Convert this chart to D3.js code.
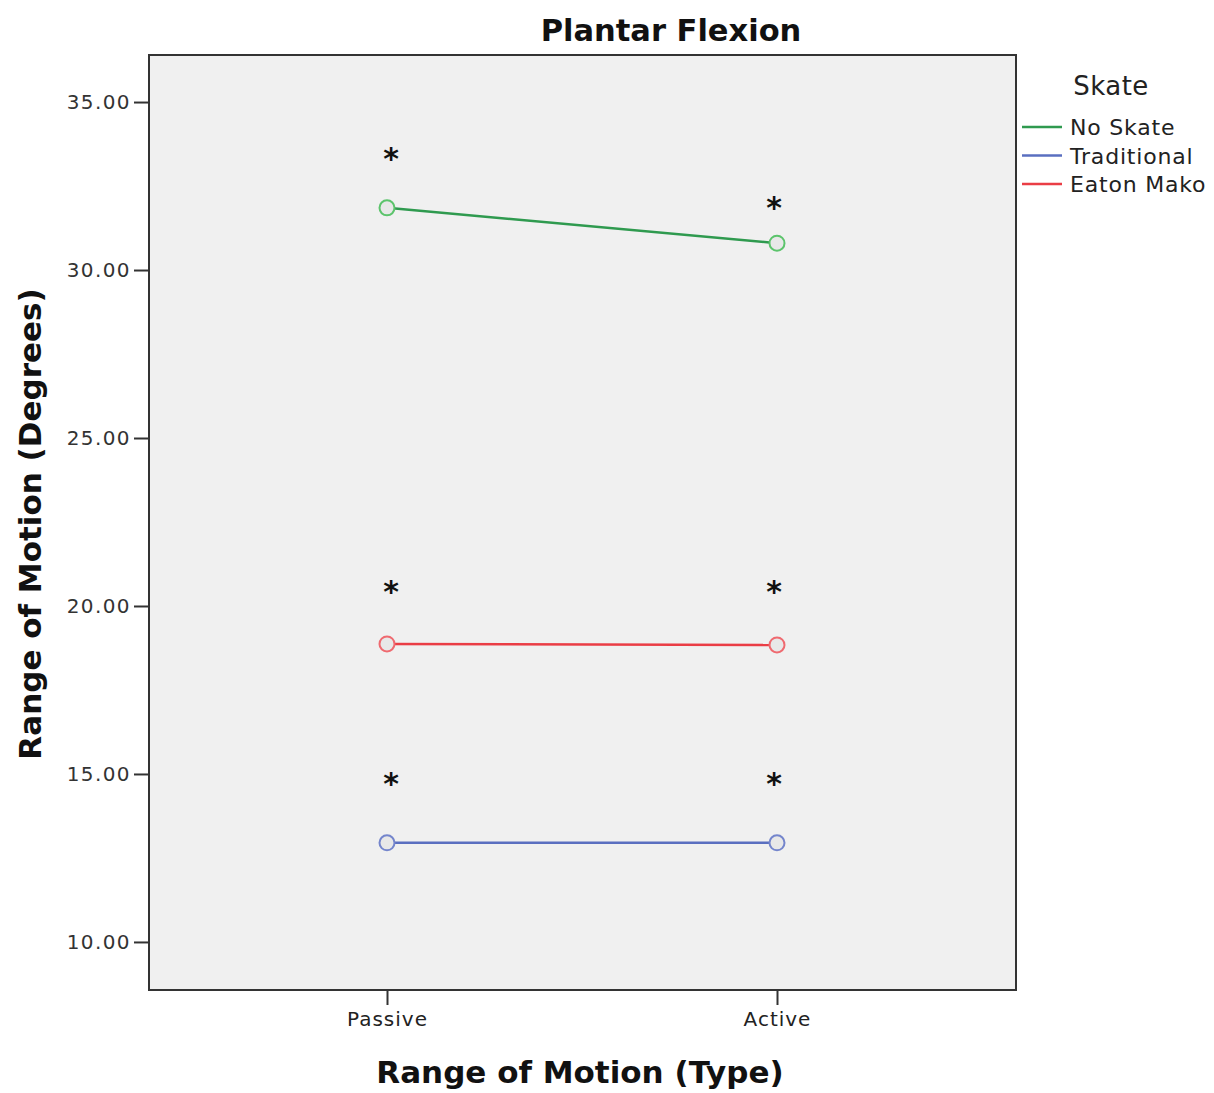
<!DOCTYPE html>
<html>
<head>
<meta charset="utf-8">
<script src="https://cdn.jsdelivr.net/npm/d3@7"></script>
<style>
    body { margin: 0; background: #fff; }
    text { font-family: "DejaVu Sans", sans-serif; }
</style>
</head>
<body>
<div id="chart"></div>
<script>
(function () {
    'use strict';

    // data
    var categories = ['Passive', 'Active'];
    var seriesNames = ['No Skate', 'Traditional', 'Eaton Mako'];
    var seriesColors = ['#2f9a4f', '#5a6fc0', '#ea3d45'];
    var markerColors = ['#5cc46c', '#7485cc', '#ef6a70'];
    var noSkate = [31.85, 30.80];
    var traditional = [12.95, 12.95];
    var eatonMako = [18.87, 18.84];
    // significance stars (value where each * sits)
    var starsNoSkate = [33.38, 31.95];
    var starsTraditional = [14.80, 14.80];
    var starsEatonMako = [20.52, 20.52];
    var yTicks = [10, 15, 20, 25, 30, 35];

    var series = [noSkate, traditional, eatonMako];
    var stars = [starsNoSkate, starsTraditional, starsEatonMako];
    var starShift = [4, -3];

    var width = 1214, height = 1093;
    var margin = { top: 55, right: 198, bottom: 103, left: 149 };
    var innerW = width - margin.left - margin.right;
    var innerH = height - margin.top - margin.bottom;

    var svg = d3.select('#chart').append('svg')
        .attr('width', width)
        .attr('height', height);

    var g = svg.append('g')
        .attr('transform', 'translate(' + margin.left + ',' + margin.top + ')');

    var x = d3.scalePoint()
        .domain(categories)
        .range([238, 628]);

    var y = d3.scaleLinear()
        .domain([8.57, 36.4])
        .range([innerH, 0]);

    // plot background
    g.append('rect')
        .attr('width', innerW)
        .attr('height', innerH)
        .attr('fill', '#f0f0f0');

    // y axis
    var yAxis = g.append('g')
        .call(d3.axisLeft(y).tickValues(yTicks).tickFormat(d3.format('.2f'))
            .tickSize(15).tickPadding(3));
    yAxis.select('.domain').remove();
    yAxis.selectAll('.tick line').attr('stroke', '#333').attr('stroke-width', 2);
    yAxis.selectAll('.tick text')
        .attr('fill', '#333')
        .style('font-size', '20px')
        .style('letter-spacing', '1.4px');

    // x axis
    var xAxis = g.append('g')
        .attr('transform', 'translate(0,' + innerH + ')')
        .call(d3.axisBottom(x).tickSize(15).tickPadding(7));
    xAxis.select('.domain').remove();
    xAxis.selectAll('.tick line').attr('stroke', '#333').attr('stroke-width', 2);
    xAxis.selectAll('.tick text')
        .attr('fill', '#222')
        .style('font-size', '20px')
        .style('letter-spacing', '1px');

    // frame
    g.append('rect')
        .attr('width', innerW)
        .attr('height', innerH)
        .attr('fill', 'none')
        .attr('stroke', '#333')
        .attr('stroke-width', 2);

    var line = d3.line()
        .x(function (d, i) { return x(categories[i]); })
        .y(function (d) { return y(d); });

    series.forEach(function (s, k) {
        g.append('path')
            .datum(s)
            .attr('d', line)
            .attr('fill', 'none')
            .attr('stroke', seriesColors[k])
            .attr('stroke-width', 2.5);

        g.selectAll('.pt' + k)
            .data(s).enter()
            .append('circle')
            .attr('class', 'pt' + k)
            .attr('cx', function (d, i) { return x(categories[i]); })
            .attr('cy', function (d) { return y(d); })
            .attr('r', 7.5)
            .attr('fill', '#e8e8e8')
            .attr('stroke', markerColors[k])
            .attr('stroke-width', 2);

        g.selectAll('.star' + k)
            .data(stars[k]).enter()
            .append('text')
            .attr('class', 'star' + k)
            .attr('x', function (d, i) { return x(categories[i]) + starShift[i]; })
            .attr('y', function (d) { return y(d) + 13; })
            .attr('text-anchor', 'middle')
            .style('font-size', '30px')
            .style('font-weight', 'bold')
            .attr('fill', '#111')
            .text('*');
    });

    // titles
    svg.append('text')
        .attr('x', 671)
        .attr('y', 41)
        .attr('text-anchor', 'middle')
        .style('font-size', '30.5px')
        .style('font-weight', 'bold')
        .attr('fill', '#111')
        .text('Plantar Flexion');

    svg.append('text')
        .attr('x', 580)
        .attr('y', 1083)
        .attr('text-anchor', 'middle')
        .style('font-size', '31px')
        .style('font-weight', 'bold')
        .attr('fill', '#111')
        .text('Range of Motion (Type)');

    svg.append('text')
        .attr('transform', 'translate(41,' + (margin.top + 469) + ') rotate(-90)')
        .attr('text-anchor', 'middle')
        .style('font-size', '31px')
        .style('font-weight', 'bold')
        .attr('fill', '#111')
        .text('Range of Motion (Degrees)');

    // legend
    var legend = svg.append('g')
        .attr('transform', 'translate(1022,0)');
    legend.append('text')
        .attr('x', 89)
        .attr('y', 95)
        .attr('text-anchor', 'middle')
        .style('font-size', '26px')
        .style('letter-spacing', '0.5px')
        .attr('fill', '#222')
        .text('Skate');

    var item = legend.selectAll('.legend')
        .data(seriesNames)
        .enter()
        .append('g')
        .attr('class', 'legend')
        .attr('transform', function (d, i) { return 'translate(0,' + (127 + i * 28.5) + ')'; });
    item.append('line')
        .attr('x1', 0).attr('x2', 40)
        .attr('stroke', function (d, i) { return seriesColors[i]; })
        .attr('stroke-width', 2.5);
    item.append('text')
        .attr('x', 48)
        .attr('y', 8)
        .style('font-size', '22px')
        .style('letter-spacing', '0.8px')
        .attr('fill', '#222')
        .text(function (d) { return d; });
})();
</script>
</body>
</html>
